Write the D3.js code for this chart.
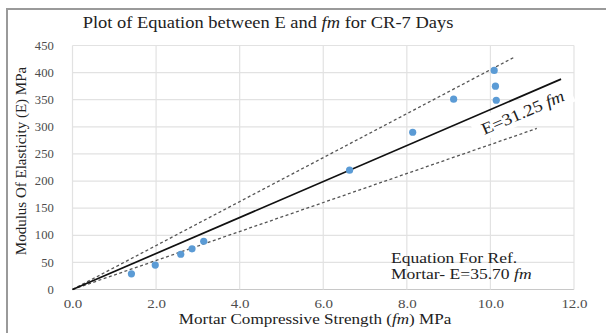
<!DOCTYPE html>
<html>
<head>
<meta charset="utf-8">
<script src="https://cdn.jsdelivr.net/npm/d3@7"></script>
<style>
  body { margin: 0; background: #fff; }
  text { font-family: "Liberation Serif", "Times New Roman", serif; }
</style>
</head>
<body>
<svg id="chart" width="606" height="333"></svg>
<script>
// Data
var fmValues = [1.41, 1.98, 2.59, 2.86, 3.14, 6.63, 8.14, 9.12, 10.09, 10.12, 10.14];
var eValues  = [29, 45, 65, 75, 89, 220, 290, 351, 404, 375, 349];

// fitted line and the two dashed bounds, as end points [fm, E]
var fitLine   = [[0, 0], [11.69, 388]];
var upperLine = [[0, 0], [10.56, 428]];
var lowerLine = [[0, 0], [11.11, 297]];

var xTicks = [0, 2, 4, 6, 8, 10, 12];
var yTicks = [0, 50, 100, 150, 200, 250, 300, 350, 400, 450];

var svg = d3.select("#chart");

// the picture is a bit wider than tall, so texts get a horizontal stretch
function stretched(px, py, sx, rot) {
  return svg.append("g")
    .attr("transform", "translate(" + px + "," + py + ")" + (rot ? " rotate(" + rot + ")" : "") + " scale(" + sx + ",1)");
}

// chart border
svg.append("path")
    .attr("d", "M7,333 V9 H606")
    .attr("fill", "none")
    .attr("stroke", "#9a9a9a")
    .attr("stroke-width", 2);

var pLeft = 72.5, pRight = 574, pTop = 45.5, pBottom = 289.5;

var x = d3.scaleLinear().domain([0, 12]).range([pLeft, pRight]);
var y = d3.scaleLinear().domain([0, 450]).range([pBottom, pTop]);

// gridlines
svg.append("g")
  .selectAll("line")
  .data(yTicks)
  .enter()
  .append("line")
    .attr("x1", pLeft).attr("x2", pRight)
    .attr("y1", function(d){ return y(d) }).attr("y2", function(d){ return y(d) })
    .attr("stroke", function(d){ return d == 0 ? "#c8c8c8" : "#e2e2e2" })
    .attr("stroke-width", 1.2);

svg.append("g")
  .selectAll("line")
  .data(xTicks)
  .enter()
  .append("line")
    .attr("y1", pTop).attr("y2", pBottom)
    .attr("x1", function(d){ return x(d) }).attr("x2", function(d){ return x(d) })
    .attr("stroke", "#e2e2e2")
    .attr("stroke-width", 1.2);

// axes (labels only, Excel style)
var xAxis = svg.append("g")
    .attr("transform", "translate(0," + pBottom + ")")
    .call(d3.axisBottom(x).tickValues(xTicks).tickFormat(d3.format(".1f")).tickSize(0).tickPadding(10));
xAxis.select(".domain").remove();
xAxis.selectAll("text")
    .style("font-size", "12.5px")
    .attr("fill", "#4d4d4d")
    .attr("transform", "scale(1.2,1)");

var yAxis = svg.append("g")
    .attr("transform", "translate(" + pLeft + ",0)")
    .call(d3.axisLeft(y).tickValues(yTicks).tickSize(0).tickPadding(17));
yAxis.select(".domain").remove();
yAxis.selectAll("text")
    .style("font-size", "11.5px")
    .attr("fill", "#4d4d4d")
    .attr("transform", "scale(1.1,1)");

// lines
var line = d3.line()
    .x(function(d){ return x(d[0]) })
    .y(function(d){ return y(d[1]) });

svg.append("path").datum(upperLine)
    .attr("d", line).attr("fill", "none")
    .attr("stroke", "#555").attr("stroke-width", 1.3).attr("stroke-dasharray", "3,2.5");
svg.append("path").datum(lowerLine)
    .attr("d", line).attr("fill", "none")
    .attr("stroke", "#555").attr("stroke-width", 1.3).attr("stroke-dasharray", "3,2.5");
svg.append("path").datum(fitLine)
    .attr("d", line).attr("fill", "none")
    .attr("stroke", "#111").attr("stroke-width", 1.7);

// points
svg.append("g")
  .selectAll("circle")
  .data(fmValues)
  .enter()
  .append("circle")
    .attr("cx", function(d){ return x(d) })
    .attr("cy", function(d, i){ return y(eValues[i]) })
    .attr("r", 3.6)
    .attr("fill", "#5b9bd5");

// label along fit line
var ang = Math.atan2(y(fitLine[1][1]) - y(0), x(fitLine[1][0]) - x(0)) * 180 / Math.PI;
var lab = stretched(523, 113, 1.15, ang);
lab.append("rect")
    .attr("x", -46).attr("y", -13).attr("width", 92).attr("height", 23)
    .attr("fill", "#fff");
var lt = lab.append("text")
    .attr("text-anchor", "middle").attr("y", 5)
    .style("font-size", "16.5px").attr("fill", "#222");
lt.append("tspan").text("E=31.25 ");
lt.append("tspan").style("font-style", "italic").text("fm");

// reference equation
var eq = stretched(391, 263, 1.17).append("text")
    .style("font-size", "15px").attr("fill", "#222");
eq.append("tspan").text("Equation For Ref.");
var eq2 = stretched(391, 279, 1.17).append("text")
    .style("font-size", "15px").attr("fill", "#222");
eq2.append("tspan").text("Mortar- E=35.70 ");
eq2.append("tspan").style("font-style", "italic").text("fm");

// title
var title = stretched(268, 28, 1.12).append("text")
    .attr("text-anchor", "middle")
    .style("font-size", "16.5px").attr("fill", "#222");
title.append("tspan").text("Plot of Equation between E and ");
title.append("tspan").style("font-style", "italic").text("fm");
title.append("tspan").text(" for CR-7 Days");

// axis titles
var xt = stretched(315, 324, 1.14).append("text")
    .attr("text-anchor", "middle")
    .style("font-size", "15px").attr("fill", "#222");
xt.append("tspan").text("Mortar Compressive Strength (");
xt.append("tspan").style("font-style", "italic").text("fm");
xt.append("tspan").text(") MPa");

svg.append("text")
    .attr("transform", "translate(26,161) rotate(-90)")
    .attr("text-anchor", "middle")
    .style("font-size", "15px").attr("fill", "#222")
    .text("Modulus Of Elasticity (E) MPa");
</script>
</body>
</html>
